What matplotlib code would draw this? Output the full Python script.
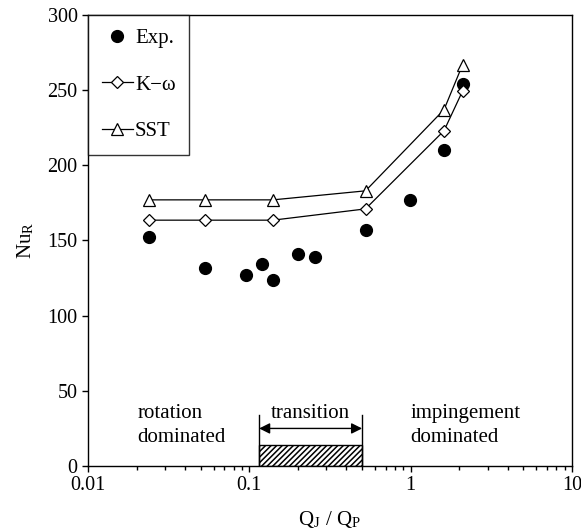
import numpy as np
import matplotlib.pyplot as plt
from matplotlib.ticker import LogLocator, NullFormatter, FixedLocator

plt.rcParams['font.family'] = ['Liberation Serif', 'DejaVu Serif']
plt.rcParams['mathtext.fontset'] = 'stix'
plt.rcParams['hatch.linewidth'] = 1.1

# Experimental data
exp_q = [0.024, 0.053, 0.096, 0.119, 0.14, 0.20, 0.256, 0.525, 0.99, 1.61, 2.10]
exp_nu = [152, 132, 127, 134.5, 124, 141, 139, 157, 177, 210, 254]

# CFD results
sim_q = [0.024, 0.053, 0.14, 0.525, 1.61, 2.10]
kw_nu = [163.5, 163.5, 163.5, 171, 223, 249.5]
sst_nu = [177, 177, 177, 183, 237, 267]

# transition region
trans_lo, trans_hi = 0.115, 0.50

fig = plt.figure(figsize=(5.81, 5.32), dpi=100)
ax = fig.add_axes([0.1515, 0.124, 0.833, 0.848])

ax.plot(exp_q, exp_nu, 'o', color='black', markersize=8.5, label='Exp.')
ax.plot(sim_q, kw_nu, '-D', color='black', lw=0.9, markersize=6,
        markerfacecolor='white', markeredgewidth=0.9, label='K\u2212\u03c9')
ax.plot(sim_q, sst_nu, '-^', color='black', lw=0.9, markersize=8,
        markerfacecolor='white', markeredgewidth=0.9, label='SST')

# hatched transition bar + arrow
ax.bar(trans_lo, 14, width=trans_hi - trans_lo, align='edge', color='white',
       edgecolor='black', hatch='//////', linewidth=1.0)
ax.plot([trans_lo, trans_lo], [0, 34], color='black', lw=1.0)
ax.plot([trans_hi, trans_hi], [0, 34], color='black', lw=1.0)
ax.annotate('', xy=(trans_lo, 25), xytext=(trans_hi, 25),
            arrowprops=dict(arrowstyle='<|-|>', color='black', lw=1.0,
                            mutation_scale=16, shrinkA=0, shrinkB=0))

fs = 15
ax.text(0.24, 35, 'transition', ha='center', va='center', fontsize=fs)
ax.text(0.0203, 35, 'rotation', ha='left', va='center', fontsize=fs)
ax.text(0.0203, 19, 'dominated', ha='left', va='center', fontsize=fs)
ax.text(1.0, 35, 'impingement', ha='left', va='center', fontsize=fs)
ax.text(1.0, 19, 'dominated', ha='left', va='center', fontsize=fs)

ax.set_xscale('log')
ax.set_xlim(0.01, 10)
ax.set_ylim(0, 300)
ax.yaxis.set_major_locator(FixedLocator([0, 50, 100, 150, 200, 250, 300]))
ax.xaxis.set_major_locator(FixedLocator([0.01, 0.1, 1, 10]))
ax.set_xticklabels(['0.01', '0.1', '1', '10'])
ax.xaxis.set_minor_locator(LogLocator(base=10, subs=np.arange(2, 10)))
ax.xaxis.set_minor_formatter(NullFormatter())
ax.tick_params(axis='both', which='major', direction='out', length=4,
               width=1, labelsize=14.5, colors='black')
ax.tick_params(axis='x', which='minor', direction='out', length=3, width=1)
for s in ax.spines.values():
    s.set_linewidth(1.0)

ax.set_xlabel('Q$_\\mathregular{J}$ / Q$_\\mathregular{P}$', fontsize=15, labelpad=10)
ax.set_ylabel('Nu$_\\mathregular{R}$', fontsize=15, labelpad=8)

leg = ax.legend(loc='upper left', borderaxespad=0, frameon=True, fancybox=False,
                edgecolor='black', fontsize=15, labelspacing=1.3,
                handlelength=1.5, handletextpad=0.1, borderpad=0.65)
leg.get_frame().set_linewidth(1.0)

fig.savefig('out.png', dpi=100)
